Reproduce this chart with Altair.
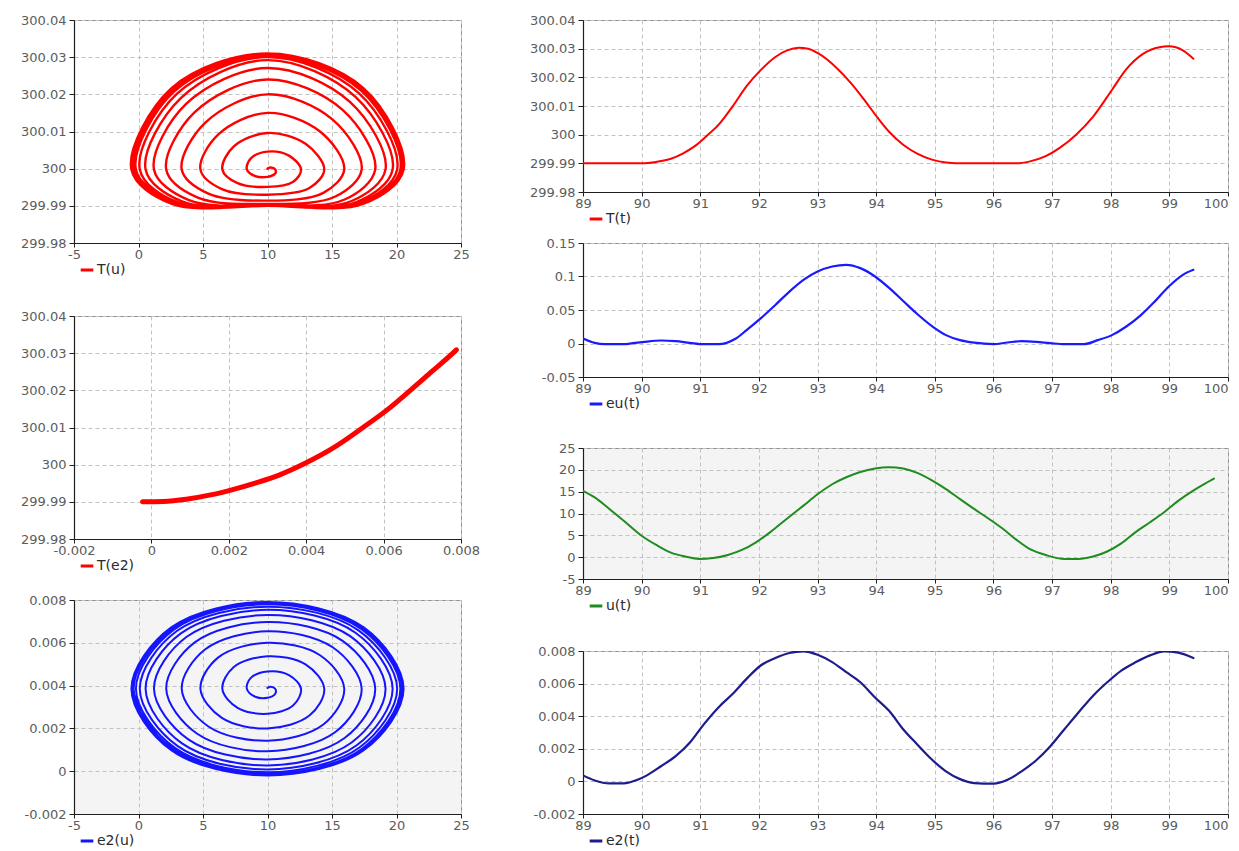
import altair as alt
import pandas as pd

# ---------------- time series ----------------
t_T = [89.0, 89.5, 90.0, 90.25, 90.5, 90.7, 90.9, 91.1, 91.31, 91.55, 91.79, 92.03, 92.28, 92.48,
       92.68, 92.84, 93.0, 93.33, 93.57, 93.81, 94.02, 94.22, 94.46, 94.7, 94.95, 95.19, 95.5, 96.0,
       96.4, 96.61, 96.89, 97.13, 97.41, 97.7, 98.02, 98.26, 98.55, 98.83, 98.99, 99.23, 99.41]
T_t = [299.99, 299.99, 299.99, 299.9905, 299.9916, 299.9934, 299.9959, 299.9994, 300.0034, 300.0098,
       300.0169, 300.0225, 300.0271, 300.0294, 300.0303, 300.0300, 300.0285, 300.0232, 300.0180,
       300.0118, 300.0060, 300.0010, 299.9965, 299.9934, 299.9913, 299.9903, 299.99, 299.99, 299.99,
       299.9906, 299.9925, 299.9954, 300.0, 300.0063, 300.0156, 300.0227, 300.0282, 300.0305,
       300.0308, 300.0294, 300.0265]

t_eu = [89.0, 89.2, 89.36, 89.7, 89.85, 90.01, 90.33, 90.58, 90.82, 91.06, 91.31, 91.45, 91.6, 91.79,
        92.03, 92.28, 92.52, 92.76, 93.0, 93.25, 93.49, 93.73, 93.98, 94.22, 94.46, 94.7, 94.95, 95.19,
        95.43, 95.67, 96.0, 96.24, 96.48, 96.73, 96.97, 97.21, 97.54, 97.78, 98.02, 98.26, 98.51, 98.75,
        98.99, 99.23, 99.41]
eu_t = [0.0075, 0.001, -0.001, -0.001, 0.0005, 0.002, 0.0045, 0.0035, 0.001, -0.001, -0.001, 0.001,
        0.007, 0.02, 0.0375, 0.0575, 0.0775, 0.095, 0.1075, 0.115, 0.1175, 0.1125, 0.1, 0.083, 0.0635,
        0.044, 0.026, 0.0125, 0.005, 0.0012, -0.001, 0.0015, 0.0035, 0.0025, 0.0005, -0.001, -0.001,
        0.005, 0.0125, 0.025, 0.042, 0.0625, 0.085, 0.1025, 0.11]

t_u = [89.0, 89.2, 89.45, 89.69, 90.01, 90.25, 90.5, 90.74, 90.98, 91.22, 91.47, 91.71, 91.95, 92.2,
       92.44, 92.76, 93.0, 93.25, 93.49, 93.73, 93.98, 94.22, 94.46, 94.7, 94.95, 95.19, 95.43, 95.67,
       95.92, 96.16, 96.4, 96.65, 96.89, 97.21, 97.45, 97.7, 97.94, 98.18, 98.43, 98.67, 98.91, 99.15,
       99.4, 99.64, 99.76]
u_t = [15.2, 13.7, 11.05, 8.4, 4.8, 2.8, 1.05, 0.15, -0.4, -0.2, 0.5, 1.65, 3.4, 5.8, 8.4, 11.8, 14.4,
       16.7, 18.3, 19.5, 20.3, 20.6, 20.3, 19.3, 17.6, 15.6, 13.3, 11.05, 8.8, 6.5, 3.9, 1.65, 0.5,
       -0.4, -0.4, 0.15, 1.3, 3.15, 5.8, 8.0, 10.3, 12.9, 15.2, 17.1, 18.0]

t_e2 = [89.0, 89.2, 89.45, 89.69, 89.93, 90.09, 90.33, 90.58, 90.82, 91.06, 91.31, 91.55, 91.79, 92.03,
        92.28, 92.52, 92.76, 93.0, 93.25, 93.49, 93.73, 93.98, 94.22, 94.46, 94.7, 94.95, 95.19, 95.43,
        95.67, 96.0, 96.24, 96.48, 96.73, 96.97, 97.21, 97.45, 97.7, 97.94, 98.18, 98.43, 98.67, 98.91,
        99.15, 99.41]
e2_t = [0.00037, 0.00006, -0.00012, -0.00012, 0.0001, 0.00037, 0.00093, 0.00155, 0.00237, 0.0035,
        0.00454, 0.00536, 0.00629, 0.00711, 0.00757, 0.00788, 0.00798, 0.00777, 0.00732, 0.0067,
        0.00608, 0.00515, 0.00433, 0.0032, 0.00227, 0.00134, 0.00062, 0.00014, -0.0001, -0.00014,
        0.0001, 0.00062, 0.0013, 0.00216, 0.0032, 0.00423, 0.00526, 0.00608, 0.0068, 0.00732,
        0.00773, 0.00798, 0.0079, 0.00757]

# ---------------- phase portrait (spiral) ----------------
sp_u = [10.0, 10.25, 10.6, 10.6, 10.0, 9.05, 8.4,
        8.69, 10.0, 11.66, 12.6, 12.0, 10.0, 7.68, 6.5,
        7.37, 10.0, 12.95, 14.4, 13.25, 10.0, 6.46, 4.8,
        6.19, 10.0, 14.07, 15.95, 14.33, 10.0, 5.42, 3.35,
        5.18, 10.0, 15.05, 17.3, 15.26, 10.0, 4.55, 2.15,
        4.36, 10.0, 15.82, 18.35, 15.98, 10.0, 3.86, 1.2,
        3.71, 10.0, 16.41, 19.15, 16.52, 10.0, 3.37, 0.55,
        3.28, 10.0, 16.82, 19.7, 16.89, 10.0, 3.04, 0.1,
        2.97, 10.0, 17.08, 20.05, 17.13, 10.0, 2.82, -0.2,
        2.77, 10.0, 17.26, 20.3, 17.3, 10.0, 2.68, -0.38,
        2.65, 10.0, 17.37, 20.45, 17.4, 10.0, 2.58, -0.5,
        2.57, 10.0, 17.44, 20.53, 17.46, 10.0, 2.54, -0.55,
        2.54, 10.0, 17.46, 20.55, 17.46, 10.0, 2.54, -0.55]
sp_e2 = [0.00389, 0.00395, 0.00385, 0.00362, 0.00343, 0.00348, 0.00385,
         0.00435, 0.00466, 0.00449, 0.00385, 0.00308, 0.00268, 0.00296, 0.00385,
         0.00486, 0.00537, 0.00499, 0.00385, 0.0026, 0.0020, 0.00249, 0.00385,
         0.00532, 0.0060, 0.00542, 0.00385, 0.00218, 0.00142, 0.00209, 0.00385,
         0.0057, 0.00654, 0.00579, 0.00385, 0.00183, 0.00093, 0.00175, 0.00385,
         0.00602, 0.00697, 0.00609, 0.00385, 0.00155, 0.00055, 0.00149, 0.00385,
         0.00627, 0.0073, 0.00631, 0.00385, 0.00134, 0.00027, 0.0013, 0.00385,
         0.00644, 0.00754, 0.00647, 0.00385, 0.0012, 0.00008, 0.00117, 0.00385,
         0.00655, 0.00769, 0.00657, 0.00385, 0.00111, -0.00005, 0.00109, 0.00385,
         0.00663, 0.0078, 0.00665, 0.00385, 0.00104, -0.00013, 0.00103, 0.00385,
         0.00668, 0.00786, 0.00669, 0.00385, 0.0010, -0.00018, 0.0010, 0.00385,
         0.00671, 0.0079, 0.00671, 0.00385, 0.00098, -0.0002, 0.00098, 0.00385,
         0.00672, 0.00791, 0.00672, 0.00385, 0.00098, -0.0002, 0.00098, 0.00385]
sp_T = [300.0000, 300.0003, 299.9998, 299.9987, 299.9978, 299.9980, 299.9998,
        300.0027, 300.0046, 300.0035, 299.9998, 299.9965, 299.9951, 299.9961, 299.9998,
        300.0059, 300.0096, 300.0067, 299.9998, 299.9948, 299.9930, 299.9945, 299.9998,
        300.0092, 300.0150, 300.0100, 299.9998, 299.9935, 299.9914, 299.9933, 299.9998,
        300.0124, 300.0200, 300.0132, 299.9998, 299.9925, 299.9905, 299.9923, 299.9998,
        300.0152, 300.0240, 300.0158, 299.9998, 299.9917, 299.9901, 299.9916, 299.9998,
        300.0175, 300.0271, 300.0179, 299.9998, 299.9913, 299.9900, 299.9912, 299.9998,
        300.0190, 300.0292, 300.0193, 299.9998, 299.9910, 299.9900, 299.9909, 299.9998,
        300.0201, 300.0300, 300.0203, 299.9998, 299.9908, 299.9900, 299.9908, 299.9998,
        300.0208, 300.0304, 300.0210, 299.9998, 299.9907, 299.9900, 299.9907, 299.9998,
        300.0212, 300.0308, 300.0213, 299.9998, 299.9906, 299.9900, 299.9906, 299.9998,
        300.0215, 300.0310, 300.0215, 299.9998, 299.9906, 299.9900, 299.9906, 299.9998,
        300.0216, 300.0310, 300.0216, 299.9998, 299.9906, 299.9900, 299.9906, 299.9998]

# ---------------- T versus e2 ----------------
c_e2 = [-0.00023, 0.0003, 0.0009, 0.0015, 0.0021, 0.0027, 0.0033, 0.00396, 0.0047, 0.00547, 0.0061,
        0.00669, 0.00725, 0.00779, 0.00788]
c_T = [299.9900, 299.9901, 299.9907, 299.9918, 299.9933, 299.9951, 299.9972, 300.0003, 300.0045,
       300.0100, 300.0148, 300.0200, 300.0251, 300.0300, 300.0309]

# ---------------- tick values ----------------
ticks_u = [-5, 0, 5, 10, 15, 20, 25]
ticks_T = [299.98, 299.99, 300.0, 300.01, 300.02, 300.03, 300.04]
ticks_e2 = [-0.002, 0, 0.002, 0.004, 0.006, 0.008]
ticks_t = [89, 90, 91, 92, 93, 94, 95, 96, 97, 98, 99, 100]
ticks_eu = [-0.05, 0, 0.05, 0.1, 0.15]
ticks_uu = [-5, 0, 5, 10, 15, 20, 25]

FONT = "DejaVu Sans"
MINUS = "\u2212"


def make_axis(vals, fmt, which, flush_last=None):
    kw = dict(
        values=vals, title=None, grid=True, gridDash=[4, 3], gridColor="#c2c2c2", gridWidth=1,
        domain=True, domainColor="#1e1e1e", domainWidth=1.2, ticks=True, tickColor="#1e1e1e",
        tickSize=5, labelColor="#5c5c5c", labelFont=FONT, labelFontSize=13, labelFlush=False,
        labelOverlap=False,
        labelExpr=f"replace(format(datum.value, '{fmt}'), '{MINUS}', '-')",
    )
    if which == "y":
        kw["labelPadding"] = 3
    else:
        kw["labelPadding"] = 1
        kw["tickSize"] = 4
        if flush_last is not None:
            kw["labelAlign"] = {"condition": {"test": f"datum.value == {flush_last}", "value": "right"},
                                "value": "center"}
    return alt.Axis(**kw)


def panel(xs, ys, label, color, xdom, ydom, xticks, yticks, xfmt, yfmt, w, h, sw, interp,
          fill="#ffffff", flush_last=None):
    n = len(xs)
    df = pd.DataFrame({"x": xs, "y": ys, "i": list(range(n)), "s": [label] * n})
    return alt.Chart(df).mark_line(
        strokeWidth=sw, interpolate=interp, clip=True, strokeCap="round", strokeJoin="round"
    ).encode(
        x=alt.X("x:Q", scale=alt.Scale(domain=xdom, nice=False, zero=False),
                axis=make_axis(xticks, xfmt, "x", flush_last)),
        y=alt.Y("y:Q", scale=alt.Scale(domain=ydom, nice=False, zero=False),
                axis=make_axis(yticks, yfmt, "y")),
        order=alt.Order("i:Q"),
        color=alt.Color("s:N", scale=alt.Scale(domain=[label], range=[color]),
                        legend=alt.Legend(orient="none", legendX=5, legendY=h + 19, title=None,
                                          symbolType="stroke", symbolSize=160, symbolStrokeWidth=3,
                                          labelFont=FONT, labelFontSize=14, labelColor="#2a2a2a",
                                          labelOffset=2, padding=0, offset=0)),
    ).properties(width=w, height=h,
                 view=alt.ViewBackground(fill=fill, stroke="#8c8c8c", strokeWidth=1))


def spacer(w, h):
    return alt.Chart(pd.DataFrame({"z": [0]})).mark_point(opacity=0).encode(
        x=alt.value(0), y=alt.value(0)
    ).properties(width=w, height=h, view=alt.ViewBackground(strokeOpacity=0, fillOpacity=0))


LW, RW = 387, 645

p1 = panel(sp_u, sp_T, "T(u)", "#ff0000", [-5, 25], [299.98, 300.04], ticks_u, ticks_T,
           "d", ".2~f", LW, 223, 2.4, "catmull-rom")
p2 = panel(c_e2, c_T, "T(e2)", "#ff0000", [-0.002, 0.008], [299.98, 300.04], ticks_e2, ticks_T,
           ".3~f", ".2~f", LW, 223, 5, "monotone")
p3 = panel(sp_u, sp_e2, "e2(u)", "#1414ff", [-5, 25], [-0.002, 0.008], ticks_u, ticks_e2,
           "d", ".3~f", LW, 214, 2, "catmull-rom", fill="#f4f4f4")

q1 = panel(t_T, T_t, "T(t)", "#ff0000", [89, 100], [299.98, 300.04], ticks_t, ticks_T,
           "d", ".2~f", RW, 172, 2, "monotone", flush_last=100)
q2 = panel(t_eu, eu_t, "eu(t)", "#1a1aff", [89, 100], [-0.05, 0.15], ticks_t, ticks_eu,
           "d", ".2~f", RW, 134, 2.2, "monotone", flush_last=100)
q3 = panel(t_u, u_t, "u(t)", "#1f8c1f", [89, 100], [-5, 25], ticks_t, ticks_uu,
           "d", "d", RW, 131, 2, "monotone", fill="#f4f4f4", flush_last=100)
q4 = panel(t_e2, e2_t, "e2(t)", "#1c1c8c", [89, 100], [-0.002, 0.008], ticks_t, ticks_e2,
           "d", ".3~f", RW, 163, 2.2, "monotone", flush_last=100)

left = alt.vconcat(p1, spacer(LW, 73), p2, spacer(LW, 61), p3, spacing=0, bounds="flush").resolve_scale(
    x="independent", y="independent", color="independent").resolve_legend(color="independent")
right = alt.vconcat(q1, spacer(RW, 51), q2, spacer(RW, 71), q3, spacer(RW, 72), q4,
                    spacing=0, bounds="flush").resolve_scale(
    x="independent", y="independent", color="independent").resolve_legend(color="independent")

# with flush bounds the nested columns are placed by their origins: 583 - 74 = 509
chart = alt.hconcat(left, right, spacing=509, bounds="flush").resolve_scale(
    x="independent", y="independent", color="independent"
).resolve_legend(color="independent").properties(
    padding={"left": 12, "top": 5, "right": 2, "bottom": 0}, background="#ffffff"
).configure(font=FONT)

chart.save("out.html", embed_options={"renderer": "svg", "actions": False})
